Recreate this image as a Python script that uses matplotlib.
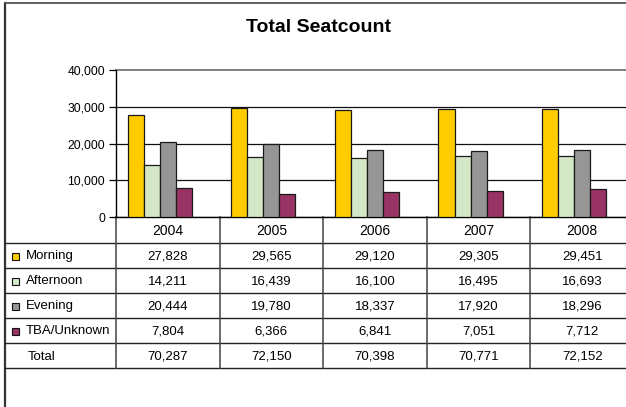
import numpy as np
import matplotlib.pyplot as plt
from matplotlib.patches import Rectangle
from matplotlib.ticker import FuncFormatter

years = ["2004", "2005", "2006", "2007", "2008"]
morning = [27828, 29565, 29120, 29305, 29451]
afternoon = [14211, 16439, 16100, 16495, 16693]
evening = [20444, 19780, 18337, 17920, 18296]
tba = [7804, 6366, 6841, 7051, 7712]
total = [70287, 72150, 70398, 70771, 72152]

series_names = ["Morning", "Afternoon", "Evening", "TBA/Unknown"]
series_colors = ["#FFCC00", "#D4E8C8", "#969696", "#993366"]

plt.rcParams["font.family"] = ["Liberation Sans", "DejaVu Sans"]

W, H = 626, 407
fig = plt.figure(figsize=(W / 100, H / 100), dpi=100)

# layout in pixels (plot area runs a little past the cropped right edge)
PL, PR = 116, 634
PT, PB = 70, 217
TB = 368
ncol = len(years)
colw = (PR - PL) / ncol

# overlay axes in pixel units for border, title and data table
tax = fig.add_axes([0, 0, 1, 1])
tax.set_xlim(0, W)
tax.set_ylim(H, 0)
tax.axis("off")

ax = fig.add_axes([PL / W, 1 - PB / H, (PR - PL) / W, (PB - PT) / H])
ax.patch.set_alpha(0)

# ---- bars ----
x = np.arange(ncol)
bw = 0.155
nslots = 5  # the Total series takes a hidden fifth slot
all_vals = [morning, afternoon, evening, tba]
for k, (vals, c) in enumerate(zip(all_vals, series_colors)):
    ax.bar(x + (k - (nslots - 1) / 2) * bw, vals, bw, color=c,
           edgecolor="#1a1a1a", lw=0.9, zorder=3)

ax.set_xlim(-0.5, ncol - 0.5)
ax.set_ylim(0, 40000)
ax.set_yticks(range(0, 40001, 10000))
ax.yaxis.set_major_formatter(FuncFormatter(lambda v, p: f"{int(v):,}"))
ax.set_xticks([])
ax.grid(axis="y", color="#111111", lw=0.9, zorder=0)
# top gridline is the lighter plot-area edge
top = ax.yaxis.get_gridlines()[-1]
top.set_color("#808080")
top.set_linewidth(1.4)
top.set_clip_on(False)
for s in ["top", "right"]:
    ax.spines[s].set_visible(False)
for s in ["left", "bottom"]:
    ax.spines[s].set_color("black")
    ax.spines[s].set_linewidth(1)
ax.tick_params(axis="y", length=5, width=0.9, pad=3, labelsize=8.7,
               colors="black")

# ---- chart border and title ----
tax.plot([4.5, 4.5], [3, H], color="#333333", lw=1.6)
tax.plot([4.5, W], [3, 3], color="#555555", lw=1.3)
tax.text(319, 28, "Total Seatcount", ha="center", va="center",
         fontsize=14, fontweight="bold")

# ---- data table ----
row_edges = np.concatenate([[PB], np.linspace(243, TB, 6)])
for yy in row_edges[1:]:
    tax.plot([5, PR], [yy, yy], color="#222222", lw=1)
for i in range(ncol + 1):
    xx = PL + i * colw
    tax.plot([xx, xx], [PB, TB], color="#444444", lw=1.1)

rc = (row_edges[:-1] + row_edges[1:]) / 2 + 1
for i, yr in enumerate(years):
    tax.text(PL + (i + 0.5) * colw, rc[0], yr, ha="center",
             va="center", fontsize=10)

rows = all_vals + [total]
labels = series_names + ["Total"]
for r, (lab, vals) in enumerate(zip(labels, rows)):
    yc = rc[r + 1]
    if r < len(series_colors):
        tax.add_patch(Rectangle((11.5, yc - 4), 7, 7, facecolor=series_colors[r],
                                edgecolor="#111111", lw=0.8))
    tax.text(26 if r < len(series_colors) else 27.5, yc, lab, ha="left",
             va="center", fontsize=9.5)
    for i, v in enumerate(vals):
        tax.text(PL + (i + 0.5) * colw, yc, f"{v:,}", ha="center",
                 va="center", fontsize=9.5)

fig.savefig("out.png", dpi=100)
